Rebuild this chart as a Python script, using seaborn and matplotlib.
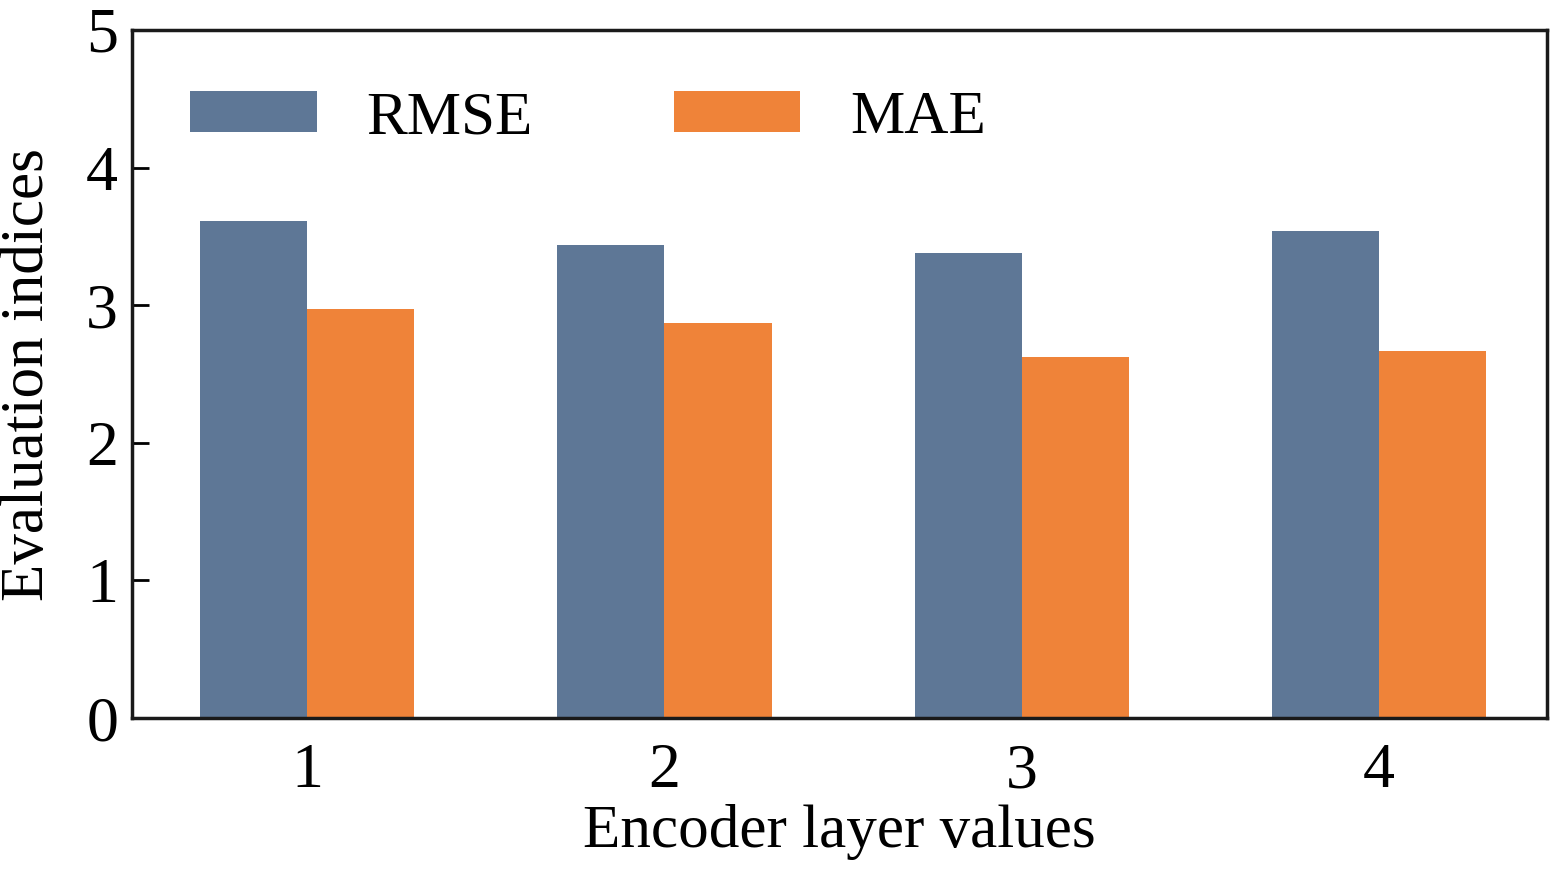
import pandas as pd
import seaborn as sns
import matplotlib.pyplot as plt

layers = ["1", "2", "3", "4"]
rmse = [3.61, 3.44, 3.38, 3.54]
mae = [2.97, 2.87, 2.62, 2.67]
metrics = ["RMSE", "MAE"]
colors = ["#5E7796", "#EF8339"]

df = pd.DataFrame({
    "layer": layers * 2,
    "value": rmse + mae,
    "metric": ["RMSE"] * len(layers) + ["MAE"] * len(layers),
})

sns.set_style("ticks")
plt.rcParams["font.family"] = ["Liberation Serif", "DejaVu Serif"]
plt.rcParams["text.color"] = "black"
plt.rcParams["axes.labelcolor"] = "black"
plt.rcParams["xtick.color"] = "black"
plt.rcParams["ytick.color"] = "black"

fig = plt.figure(figsize=(15.59, 8.72), dpi=100)
ax = fig.add_axes([0.0847, 0.1766, 0.9076, 0.789])

sns.barplot(data=df, x="layer", y="value", hue="metric", hue_order=metrics,
            palette=colors, width=0.6, saturation=1, linewidth=0, ax=ax)

ax.set_ylim(0, 5)
ax.set_xlim(-0.49, 3.47)
ax.set_yticks([0, 1, 2, 3, 4, 5])
ax.tick_params(axis="y", direction="in", length=12, width=2, labelsize=46, pad=10)
ax.tick_params(axis="x", length=0, labelsize=46, pad=18)
for s in ax.spines.values():
    s.set_linewidth(2.5)
    s.set_color("#1a1a1a")

ax.set_xlabel("Encoder layer values", fontsize=44, labelpad=2)
ax.set_ylabel("Evaluation indices", fontsize=44, labelpad=22)

ax.legend(loc="upper left", bbox_to_anchor=(0.041, 0.912), ncol=2, frameon=False,
          fontsize=44, handlelength=2.07, handleheight=0.65,
          handletextpad=0.82, columnspacing=2.3, borderpad=0, borderaxespad=0)

fig.savefig("out.png", dpi=100)
